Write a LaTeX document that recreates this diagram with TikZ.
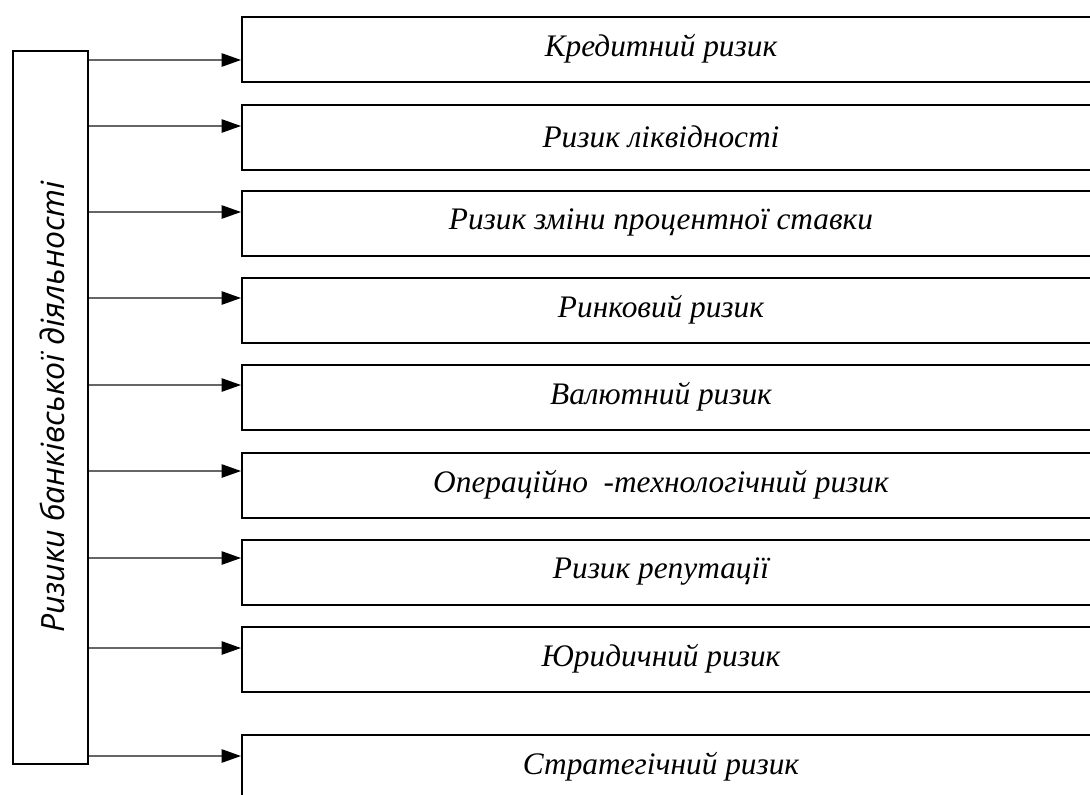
\documentclass[tikz,border=0pt]{standalone}
\usepackage{fontspec}
\setmainfont{Liberation Serif}
\newfontfamily\sansit{Open Sans}
\usetikzlibrary{arrows.meta}
\begin{document}
\begin{tikzpicture}[x=0.75pt,y=-0.75pt,
  riskbox/.style={draw=black, line width=1.6pt, minimum width=645pt, minimum height=48.75pt, anchor=north west, inner sep=0pt},
  mainbox/.style={draw=black, line width=1.6pt, minimum width=56.25pt, minimum height=534.75pt, anchor=north west, inner sep=0pt},
  risklabel/.style={font=\fontsize{23.5}{28}\selectfont\itshape, inner sep=0pt},
  conn/.style={draw=black!60, line width=1.1pt, -{Triangle[length=14.5pt,width=10pt,fill=black,color=black]}}]
\useasboundingbox (0,0) rectangle (1090,794);
\clip (0,0) rectangle (1090,794);
\node[mainbox] (L) at (12,50) {};
\node[rotate=90, font=\fontsize{24}{28}\sansit\itshape, inner sep=0pt] (Lt) at (52,407) {Ризики банківської діяльності};
\foreach \i/\top/\ay/\txt in {
  1/16/60/Кредитний ризик,
  2/104/126/Ризик ліквідності,
  3/190/212/Ризик зміни процентної ставки,
  4/277/298/Ринковий ризик,
  5/364/385/Валютний ризик,
  6/452/471/Операційно \ -технологічний ризик,
  7/539/558/Ризик репутації,
  8/626/648/Юридичний ризик,
  9/734/756/Стратегічний ризик}{
  \node[riskbox] (b\i) at (241,\top) {};
  \node[risklabel] (t\i) at (661,\top+32.5) {\txt};
  \coordinate (a\i) at (0,\ay);
  \draw[conn] (L.east |- a\i) -- (b\i.west |- a\i);
}
\end{tikzpicture}
\end{document}
